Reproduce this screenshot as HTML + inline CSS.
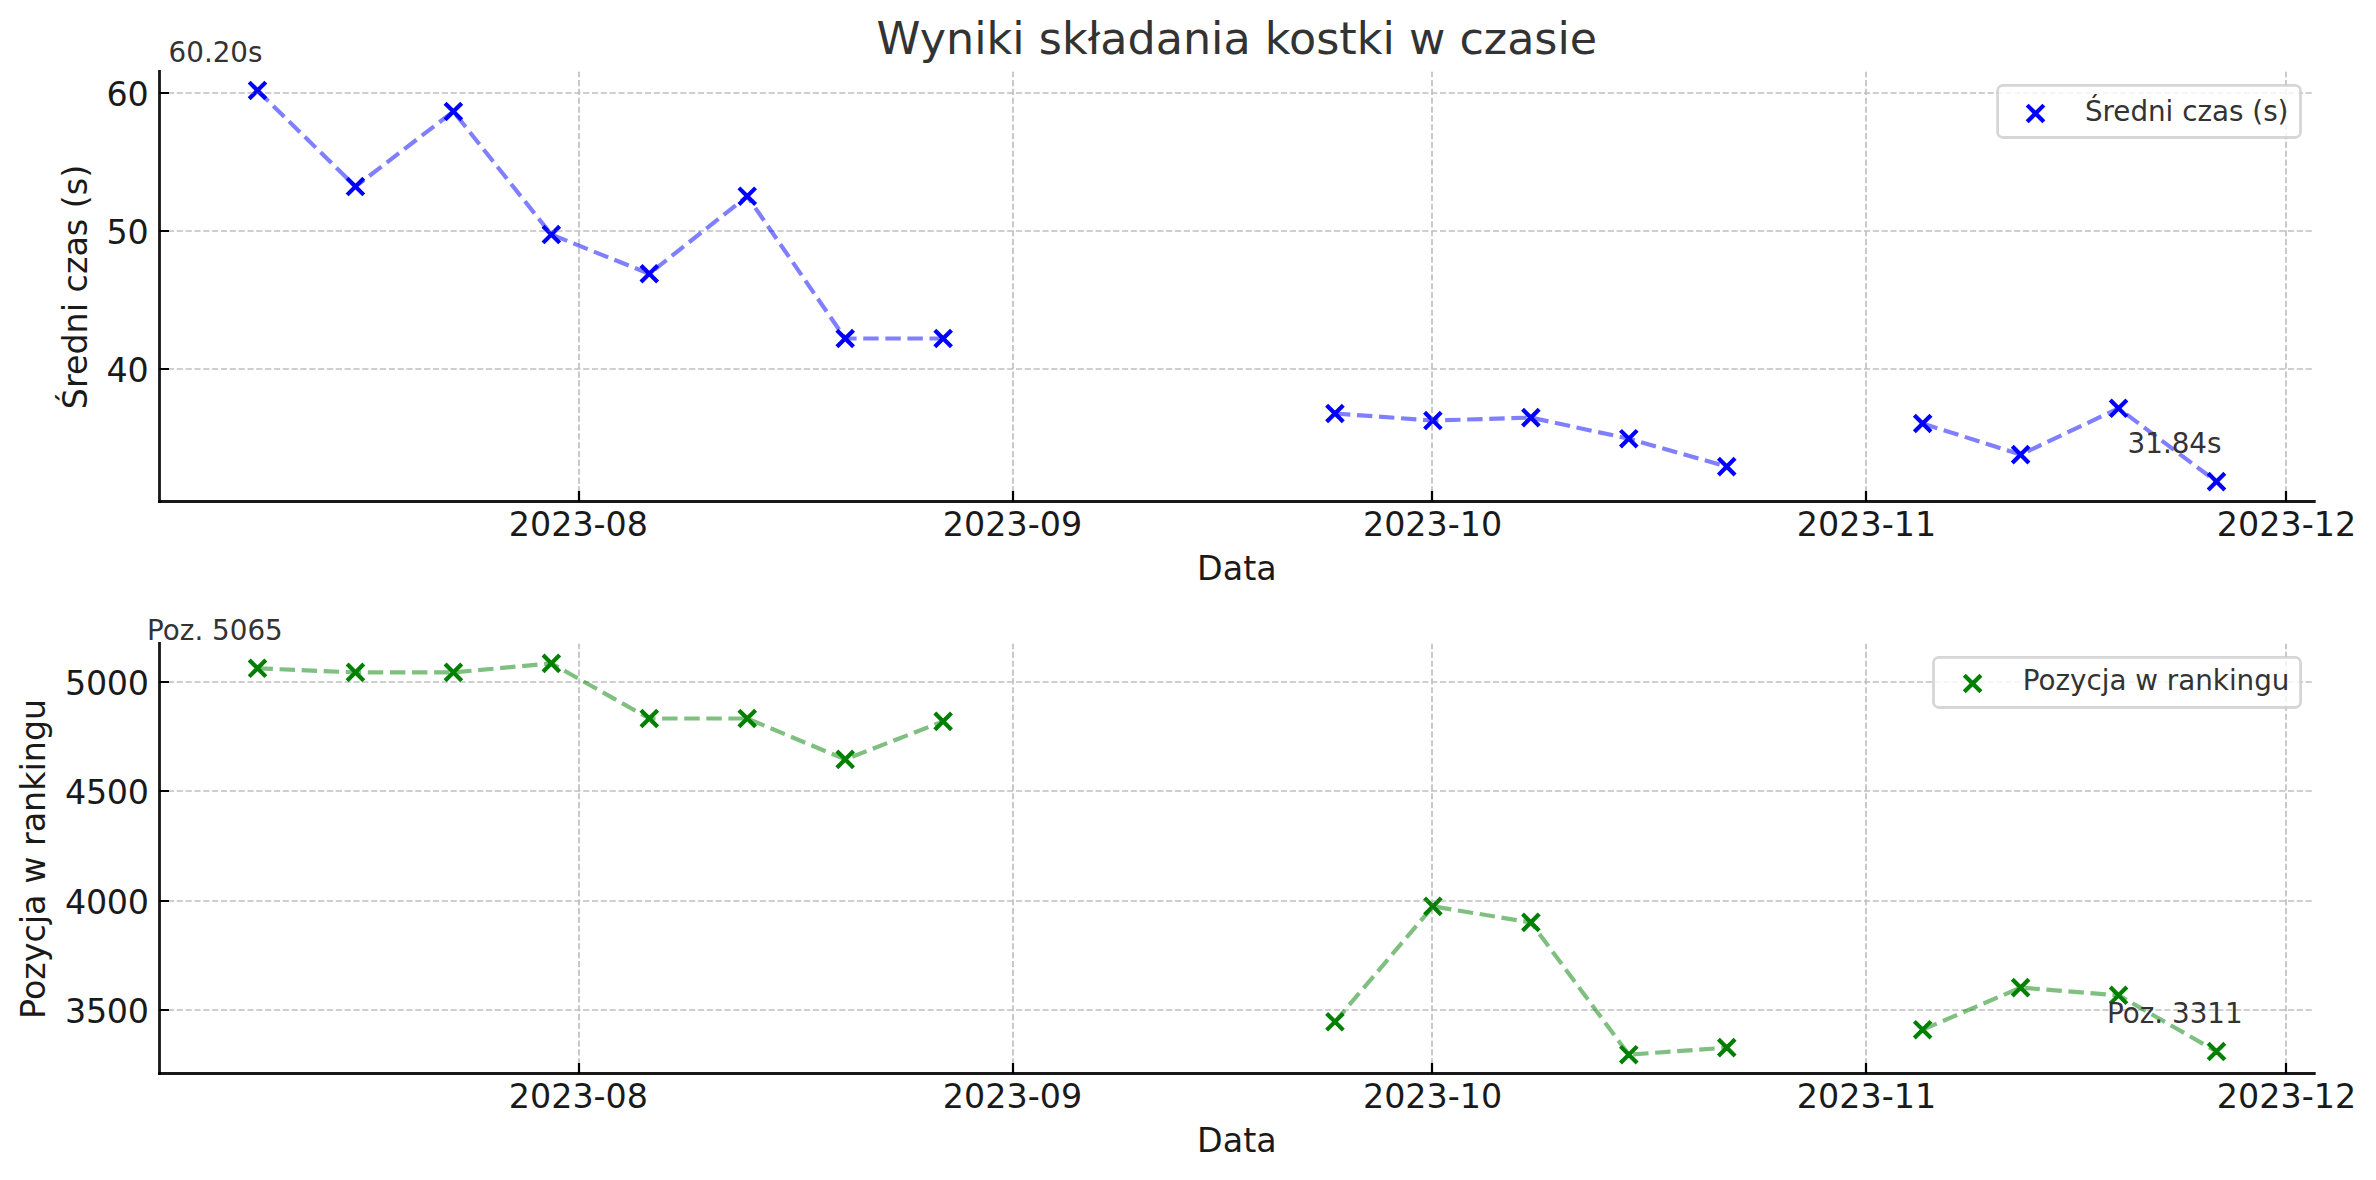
<!DOCTYPE html>
<html lang="pl"><head><meta charset="utf-8"><title>Wyniki składania kostki w czasie</title>
<style>html,body{margin:0;padding:0;background:#fff}svg{display:block}text{white-space:pre}</style></head>
<body>
<svg width="2376" height="1180" viewBox="0 0 2376 1180" font-family='"DejaVu Sans","Liberation Sans",sans-serif'>
<rect width="2376" height="1180" fill="#ffffff"/>
<clipPath id="clip1"><rect x="159.4" y="71.4" width="2154.90" height="429.90"/></clipPath>
<path d="M249.17 82.10L265.83 98.76M249.17 98.76L265.83 82.10M347.12 178.22L363.78 194.88M347.12 194.88L363.78 178.22M445.07 103.17L461.73 119.83M445.07 119.83L461.73 103.17M543.02 226.23L559.68 242.89M543.02 242.89L559.68 226.23M640.97 265.43L657.63 282.09M640.97 282.09L657.63 265.43M738.92 187.87L755.58 204.53M738.92 204.53L755.58 187.87M836.87 330.17L853.53 346.83M836.87 346.83L853.53 330.17M934.82 330.17L951.48 346.83M934.82 346.83L951.48 330.17M1326.62 405.17L1343.28 421.83M1326.62 421.83L1343.28 405.17M1424.57 412.23L1441.23 428.89M1424.57 428.89L1441.23 412.23M1522.52 409.27L1539.18 425.93M1522.52 425.93L1539.18 409.27M1620.47 430.37L1637.13 447.03M1620.47 447.03L1637.13 430.37M1718.42 458.27L1735.08 474.93M1718.42 474.93L1735.08 458.27M1914.32 415.17L1930.98 431.83M1914.32 431.83L1930.98 415.17M2012.27 446.27L2028.93 462.93M2012.27 462.93L2028.93 446.27M2110.22 399.97L2126.88 416.63M2110.22 416.63L2126.88 399.97M2208.17 473.27L2224.83 489.93M2208.17 489.93L2224.83 473.27" stroke="#0000ff" stroke-width="4.17" fill="none"/>
<path d="M579 501.3L579 71.4M1013 501.3L1013 71.4M1432 501.3L1432 71.4M1866 501.3L1866 71.4M2286 501.3L2286 71.4M159.10 93L2314.3 93M159.10 231L2314.3 231M159.10 369L2314.3 369" stroke="#808080" stroke-opacity="0.5" stroke-width="1.67" stroke-dasharray="6.1667 2.6667" fill="none" clip-path="url(#clip1)"/>
<path d="M579 501.5L579 491.0M1013 501.5L1013 491.0M1432 501.5L1432 491.0M1866 501.5L1866 491.0M2286 501.5L2286 491.0M159.5 93L169.0 93M159.5 231L169.0 231M159.5 369L169.0 369" stroke="#000000" stroke-width="2.22" fill="none"/>
<text x="578.4" y="536.0" font-size="33.33" fill="#1a1a1a" text-anchor="middle">2023-08</text>
<text x="1012.5" y="536.0" font-size="33.33" fill="#1a1a1a" text-anchor="middle">2023-09</text>
<text x="1432.6" y="536.0" font-size="33.33" fill="#1a1a1a" text-anchor="middle">2023-10</text>
<text x="1866.5" y="536.0" font-size="33.33" fill="#1a1a1a" text-anchor="middle">2023-11</text>
<text x="2286.5" y="536.0" font-size="33.33" fill="#1a1a1a" text-anchor="middle">2023-12</text>
<text x="148.8" y="105.6" font-size="33.33" fill="#1a1a1a" text-anchor="end">60</text>
<text x="148.8" y="243.6" font-size="33.33" fill="#1a1a1a" text-anchor="end">50</text>
<text x="148.8" y="381.6" font-size="33.33" fill="#1a1a1a" text-anchor="end">40</text>
<path d="M257.50 90.43L355.45 186.55L453.40 111.50L551.35 234.56L649.30 273.76L747.25 196.20L845.20 338.50L943.15 338.50M1334.95 413.50L1432.90 420.56L1530.85 417.60L1628.80 438.70L1726.75 466.60M1922.65 423.50L2020.60 454.60L2118.55 408.30L2216.50 481.60" stroke="#0000ff" stroke-opacity="0.5" stroke-width="4.17" stroke-dasharray="15.4167 6.6667" stroke-linejoin="round" fill="none"/>
<path d="M159.5 70.00L159.5 502.95" stroke="#000000" stroke-opacity="0.9" stroke-width="2.85" fill="none"/>
<path d="M158.05 501.5L2315.70 501.5" stroke="#000000" stroke-opacity="0.9" stroke-width="2.85" fill="none"/>
<text x="1236.9" y="579.7" font-size="33.33" fill="#1a1a1a" text-anchor="middle">Data</text>
<text transform="translate(87.4 287.0) rotate(-90)" font-size="33.33" fill="#1a1a1a" text-anchor="middle">Średni czas (s)</text>
<text x="215.53" y="61.73" font-size="27.78" fill="#333333" text-anchor="middle">60.20s</text>
<text x="2174.53" y="452.90" font-size="27.78" fill="#333333" text-anchor="middle">31.84s</text>
<rect x="1997.6" y="85.4" width="302.90" height="52.10" rx="5.5" ry="5.5" fill="#ffffff" fill-opacity="0.8" stroke="#cccccc" stroke-opacity="0.8" stroke-width="2.78"/>
<path d="M2027.17 105.12L2043.83 121.78M2027.17 121.78L2043.83 105.12" stroke="#0000ff" stroke-width="4.17" fill="none"/>
<text x="2084.9" y="120.8" font-size="27.78" fill="#333333">Średni czas (s)</text>
<clipPath id="clip2"><rect x="159.4" y="643.4" width="2154.90" height="429.80"/></clipPath>
<path d="M249.17 659.97L265.83 676.63M249.17 676.63L265.83 659.97M347.12 664.07L363.78 680.73M347.12 680.73L363.78 664.07M445.07 664.07L461.73 680.73M445.07 680.73L461.73 664.07M543.02 655.07L559.68 671.73M543.02 671.73L559.68 655.07M640.97 710.17L657.63 726.83M640.97 726.83L657.63 710.17M738.92 710.17L755.58 726.83M738.92 726.83L755.58 710.17M836.87 751.07L853.53 767.73M836.87 767.73L853.53 751.07M934.82 713.07L951.48 729.73M934.82 729.73L951.48 713.07M1326.62 1013.47L1343.28 1030.13M1326.62 1030.13L1343.28 1013.47M1424.57 898.07L1441.23 914.73M1424.57 914.73L1441.23 898.07M1522.52 914.07L1539.18 930.73M1522.52 930.73L1539.18 914.07M1620.47 1046.37L1637.13 1063.03M1620.47 1063.03L1637.13 1046.37M1718.42 1039.27L1735.08 1055.93M1718.42 1055.93L1735.08 1039.27M1914.32 1021.37L1930.98 1038.03M1914.32 1038.03L1930.98 1021.37M2012.27 979.27L2028.93 995.93M2012.27 995.93L2028.93 979.27M2110.22 986.97L2126.88 1003.63M2110.22 1003.63L2126.88 986.97M2208.17 1043.17L2224.83 1059.83M2208.17 1059.83L2224.83 1043.17" stroke="#008000" stroke-width="4.17" fill="none"/>
<path d="M579 1073.2L579 643.4M1013 1073.2L1013 643.4M1432 1073.2L1432 643.4M1866 1073.2L1866 643.4M2286 1073.2L2286 643.4M159.10 682L2314.3 682M159.10 791L2314.3 791M159.10 901L2314.3 901M159.10 1010L2314.3 1010" stroke="#808080" stroke-opacity="0.5" stroke-width="1.67" stroke-dasharray="6.1667 2.6667" fill="none" clip-path="url(#clip2)"/>
<path d="M579 1073.5L579 1063.0M1013 1073.5L1013 1063.0M1432 1073.5L1432 1063.0M1866 1073.5L1866 1063.0M2286 1073.5L2286 1063.0M159.5 682L169.0 682M159.5 791L169.0 791M159.5 901L169.0 901M159.5 1010L169.0 1010" stroke="#000000" stroke-width="2.22" fill="none"/>
<text x="578.4" y="1108.0" font-size="33.33" fill="#1a1a1a" text-anchor="middle">2023-08</text>
<text x="1012.5" y="1108.0" font-size="33.33" fill="#1a1a1a" text-anchor="middle">2023-09</text>
<text x="1432.6" y="1108.0" font-size="33.33" fill="#1a1a1a" text-anchor="middle">2023-10</text>
<text x="1866.5" y="1108.0" font-size="33.33" fill="#1a1a1a" text-anchor="middle">2023-11</text>
<text x="2286.5" y="1108.0" font-size="33.33" fill="#1a1a1a" text-anchor="middle">2023-12</text>
<text x="149.0" y="694.6" font-size="33.33" fill="#1a1a1a" text-anchor="end" textLength="84.0" lengthAdjust="spacing">5000</text>
<text x="149.0" y="803.6" font-size="33.33" fill="#1a1a1a" text-anchor="end" textLength="84.0" lengthAdjust="spacing">4500</text>
<text x="149.0" y="913.6" font-size="33.33" fill="#1a1a1a" text-anchor="end" textLength="84.0" lengthAdjust="spacing">4000</text>
<text x="149.0" y="1022.6" font-size="33.33" fill="#1a1a1a" text-anchor="end" textLength="84.0" lengthAdjust="spacing">3500</text>
<path d="M257.50 668.30L355.45 672.40L453.40 672.40L551.35 663.40L649.30 718.50L747.25 718.50L845.20 759.40L943.15 721.40M1334.95 1021.80L1432.90 906.40L1530.85 922.40L1628.80 1054.70L1726.75 1047.60M1922.65 1029.70L2020.60 987.60L2118.55 995.30L2216.50 1051.50" stroke="#008000" stroke-opacity="0.5" stroke-width="4.17" stroke-dasharray="15.4167 6.6667" stroke-linejoin="round" fill="none"/>
<path d="M159.5 642.00L159.5 1074.95" stroke="#000000" stroke-opacity="0.9" stroke-width="2.85" fill="none"/>
<path d="M158.05 1073.5L2315.70 1073.5" stroke="#000000" stroke-opacity="0.9" stroke-width="2.85" fill="none"/>
<text x="1236.9" y="1151.7" font-size="33.33" fill="#1a1a1a" text-anchor="middle">Data</text>
<text transform="translate(44.8 858.9) rotate(-90)" font-size="33.33" fill="#1a1a1a" text-anchor="middle">Pozycja w rankingu</text>
<text x="214.93" y="639.60" font-size="27.78" fill="#333333" text-anchor="middle">Poz. 5065</text>
<text x="2174.83" y="1022.80" font-size="27.78" fill="#333333" text-anchor="middle">Poz. 3311</text>
<rect x="1933.5" y="657.3" width="367.10" height="50.20" rx="5.5" ry="5.5" fill="#ffffff" fill-opacity="0.8" stroke="#cccccc" stroke-opacity="0.8" stroke-width="2.78"/>
<path d="M1964.27 675.17L1980.93 691.83M1964.27 691.83L1980.93 675.17" stroke="#008000" stroke-width="4.17" fill="none"/>
<text x="2022.7" y="690.0" font-size="27.78" fill="#333333">Pozycja w rankingu</text>
<text x="1236.9" y="54.0" font-size="44.44" fill="#333333" text-anchor="middle">Wyniki składania kostki w czasie</text>
</svg>
</body></html>
